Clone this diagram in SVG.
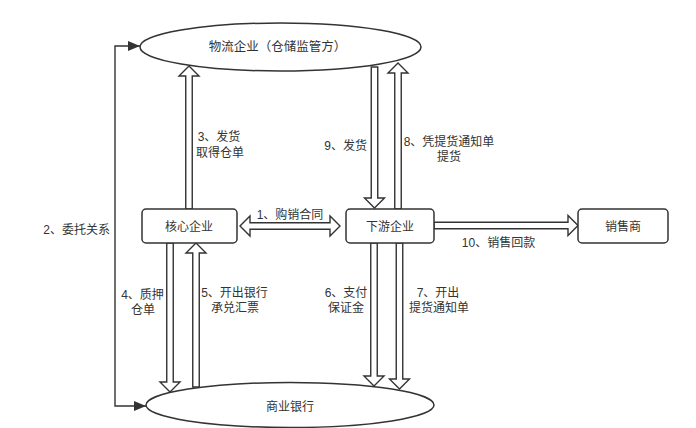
<svg xmlns="http://www.w3.org/2000/svg" width="696" height="428" viewBox="0 0 696 428">
<defs>
<style>
.n{fill:#fff;stroke:#333;stroke-width:1.5}
.a{fill:#fff;stroke:#333;stroke-width:1.4;stroke-linejoin:miter}
.l{fill:none;stroke:#333;stroke-width:1.4}
text{font-family:"Liberation Sans","Noto Sans CJK SC",sans-serif;font-size:12px;fill:#333;text-anchor:middle;dominant-baseline:central}
.e{text-anchor:end}
</style>
<marker id="tri" markerWidth="12" markerHeight="10" refX="12" refY="5" orient="auto-start-reverse" markerUnits="userSpaceOnUse">
<path d="M0,0 L12,5 L0,10 Z" fill="#333"/>
</marker>
</defs>
<rect width="696" height="428" fill="#fff"/>
<g id="connectors">
<path class="l" d="M140,46 H115 V406 H146" marker-start="url(#tri)" marker-end="url(#tri)"/>
<polygon class="a" points="240,226 250,216 250,222.75 330,222.75 330,216 340,226 330,236 330,229.25 250,229.25 250,236"/>
<polygon class="a" points="185.75,209 185.75,76 179,76 189,66 199,76 192.25,76 192.25,209"/>
<polygon class="a" points="394.75,209 394.75,73 388,73 398,63 408,73 401.25,73 401.25,209"/>
<polygon class="a" points="371.25,67 371.25,198 364.5,198 374.5,208 384.5,198 377.75,198 377.75,67"/>
<polygon class="a" points="166.75,243 166.75,382 160,382 170,392 180,382 173.25,382 173.25,243"/>
<polygon class="a" points="192.75,387 192.75,253 186,253 196,243 206,253 199.25,253 199.25,387"/>
<polygon class="a" points="370.75,243 370.75,376 364,376 374,386 384,376 377.25,376 377.25,243"/>
<polygon class="a" points="396.25,243 396.25,379 389.5,379 399.5,389 409.5,379 402.75,379 402.75,243"/>
<polygon class="a" points="434,222.25 568,222.25 568,215.5 578,225.5 568,235.5 568,228.75 434,228.75"/>
<text x="290" y="215">1、购销合同</text>
<text class="e" x="110" y="230">2、委托关系</text>
<text x="219" y="137">3、发货</text>
<text x="220" y="153">取得仓单</text>
<text x="142.5" y="295">4、质押</text>
<text x="143" y="310">仓单</text>
<text x="234.5" y="293">5、开出银行</text>
<text x="235" y="308">承兑汇票</text>
<text x="346" y="293">6、支付</text>
<text x="346" y="308">保证金</text>
<text x="438" y="293">7、开出</text>
<text x="439" y="308">提货通知单</text>
<text x="449" y="142">8、凭提货通知单</text>
<text x="449" y="157">提货</text>
<text class="e" x="367" y="146">9、发货</text>
<text x="498.5" y="243">10、销售回款</text>
</g>
<g id="wuliu">
<ellipse class="n" cx="280.5" cy="47" rx="140.5" ry="24"/>
<text x="277.5" y="47" style="font-size:12.5px">物流企业（仓储监管方）</text>
</g>
<g id="yinhang">
<ellipse class="n" cx="290" cy="405" rx="144" ry="22.5"/>
<text x="290" y="407">商业银行</text>
</g>
<g id="hexin">
<rect class="n" x="142" y="209" width="95" height="34" rx="4"/>
<text x="189" y="227">核心企业</text>
</g>
<g id="xiayou">
<rect class="n" x="346" y="209" width="88" height="34" rx="4"/>
<text x="390" y="227">下游企业</text>
</g>
<g id="xiaoshou">
<rect class="n" x="578" y="209" width="90" height="34" rx="4"/>
<text x="623" y="227">销售商</text>
</g>
</svg>
